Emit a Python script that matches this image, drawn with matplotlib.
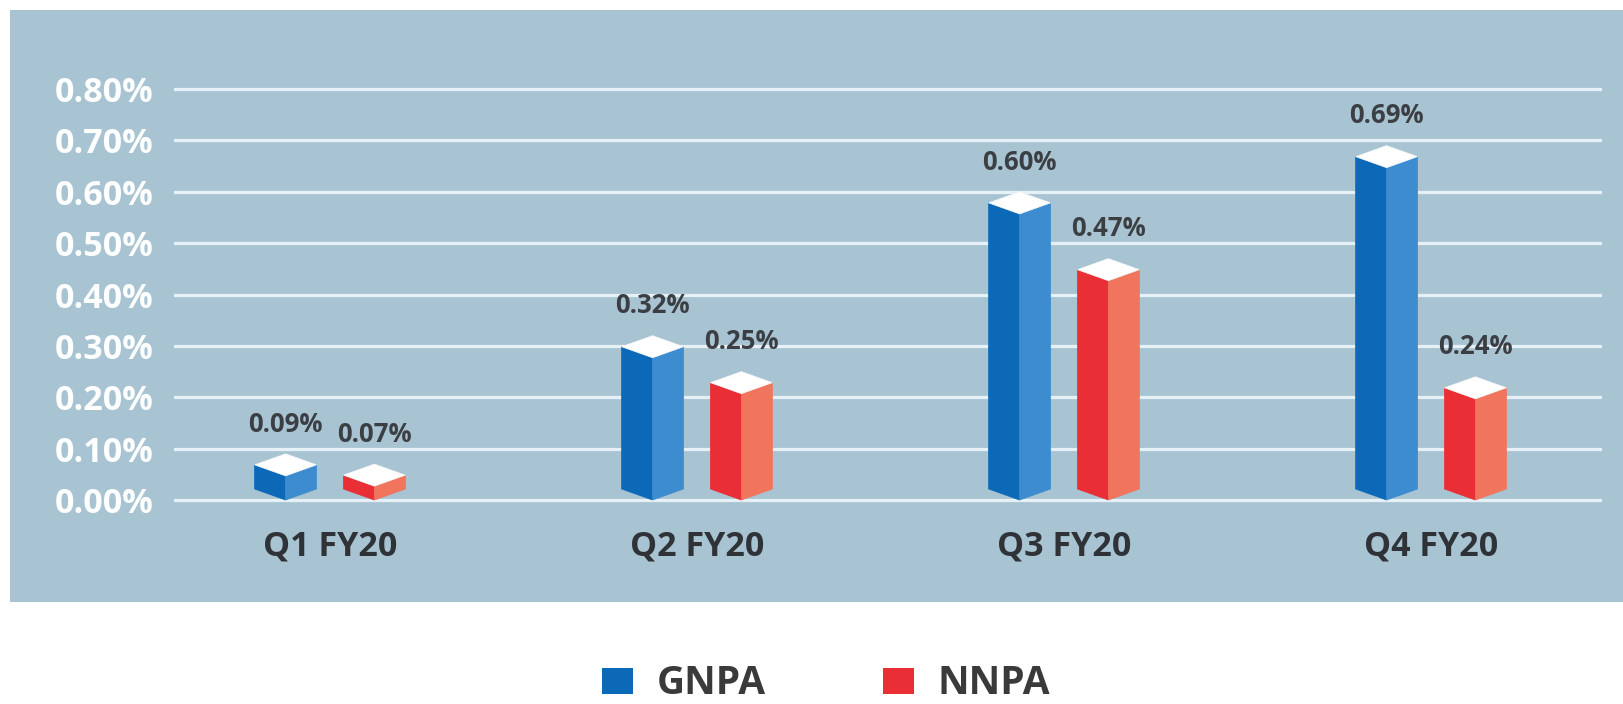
import numpy as np
import matplotlib.pyplot as plt
from matplotlib.patches import Polygon, Rectangle

plt.rcParams["font.family"] = ["Open Sans", "DejaVu Sans"]

# data
quarters = ["Q1 FY20", "Q2 FY20", "Q3 FY20", "Q4 FY20"]
gnpa = [0.09, 0.32, 0.60, 0.69]
nnpa = [0.07, 0.25, 0.47, 0.24]
yticks = [0.0, 0.1, 0.2, 0.3, 0.4, 0.5, 0.6, 0.7, 0.8]

W, H = 1624, 704
panel = "#a8c4d2"
blue = ("#0b69b7", "#3c8ccf")
red = ("#ea2e36", "#f1745c")
dark = "#3b3f44"


def prism(ax, xc, val, colors, hw=0.0845, dh=0.0215):
    """Draw a bar as a prism seen from its front edge, white top."""
    left, right = colors
    top_c = val - 2 * dh
    ax.add_patch(Polygon([(xc, 0), (xc - hw, dh), (xc - hw, val - dh), (xc, top_c)],
                         closed=True, fc=left, ec=left, lw=0.5, zorder=3))
    ax.add_patch(Polygon([(xc, 0), (xc + hw, dh), (xc + hw, val - dh), (xc, top_c)],
                         closed=True, fc=right, ec=right, lw=0.5, zorder=3))
    ax.add_patch(Polygon([(xc, val), (xc + hw, val - dh), (xc, top_c), (xc - hw, val - dh)],
                         closed=True, fc="white", ec="#f4f6f8", lw=0.5, zorder=4))
    ax.text(xc, val + 0.058, f"{val:.2f}%", ha="center", va="center",
            fontsize=18.5, fontweight="bold", color=dark, zorder=5)


fig = plt.figure(figsize=(W / 100, H / 100), dpi=100)
fig.patch.set_facecolor("white")
fig.add_artist(Rectangle((10 / W, (H - 602) / H), (W - 10) / W, 592 / H,
                         transform=fig.transFigure, fc=panel, ec="none", zorder=0))

ax = fig.add_axes([174 / W, (H - 602) / H, (1602 - 174) / W, 592 / H])
ax.set_facecolor("none")
ax.set_xlim(-0.425, 3.466)
ax.set_ylim(-0.1985, 0.954)
for s in ax.spines.values():
    s.set_visible(False)

ax.set_yticks(yticks)
ax.set_yticklabels([f"{t:.2f}%" for t in yticks])
ax.tick_params(axis="y", length=0, pad=15, labelsize=24.5, labelcolor="white")
for lab in ax.get_yticklabels():
    lab.set_fontweight("bold")
ax.set_xticks([])
ax.yaxis.grid(True, color="#e6f1f7", lw=2.3)
ax.set_axisbelow(True)

x = np.arange(len(quarters))
off = 0.121
for i in range(len(quarters)):
    prism(ax, x[i] - off, gnpa[i], blue)
    prism(ax, x[i] + off, nnpa[i], red)
    ax.text(x[i], -0.09, quarters[i], ha="center", va="center",
            fontsize=24.5, fontweight="bold", color="#2f3338")

# legend below the panel
for sx, col, name in [(602, blue[0], "GNPA"), (883, red[0], "NNPA")]:
    fig.add_artist(Rectangle((sx / W, 10 / H), 31 / W, 26 / H,
                             transform=fig.transFigure, fc=col, ec="none"))
    fig.text((sx + 55) / W, 1 / H, name, ha="left", va="bottom",
             fontsize=28, fontweight="bold", color="#3a3a3a")

plt.savefig("out.png", dpi=100)
